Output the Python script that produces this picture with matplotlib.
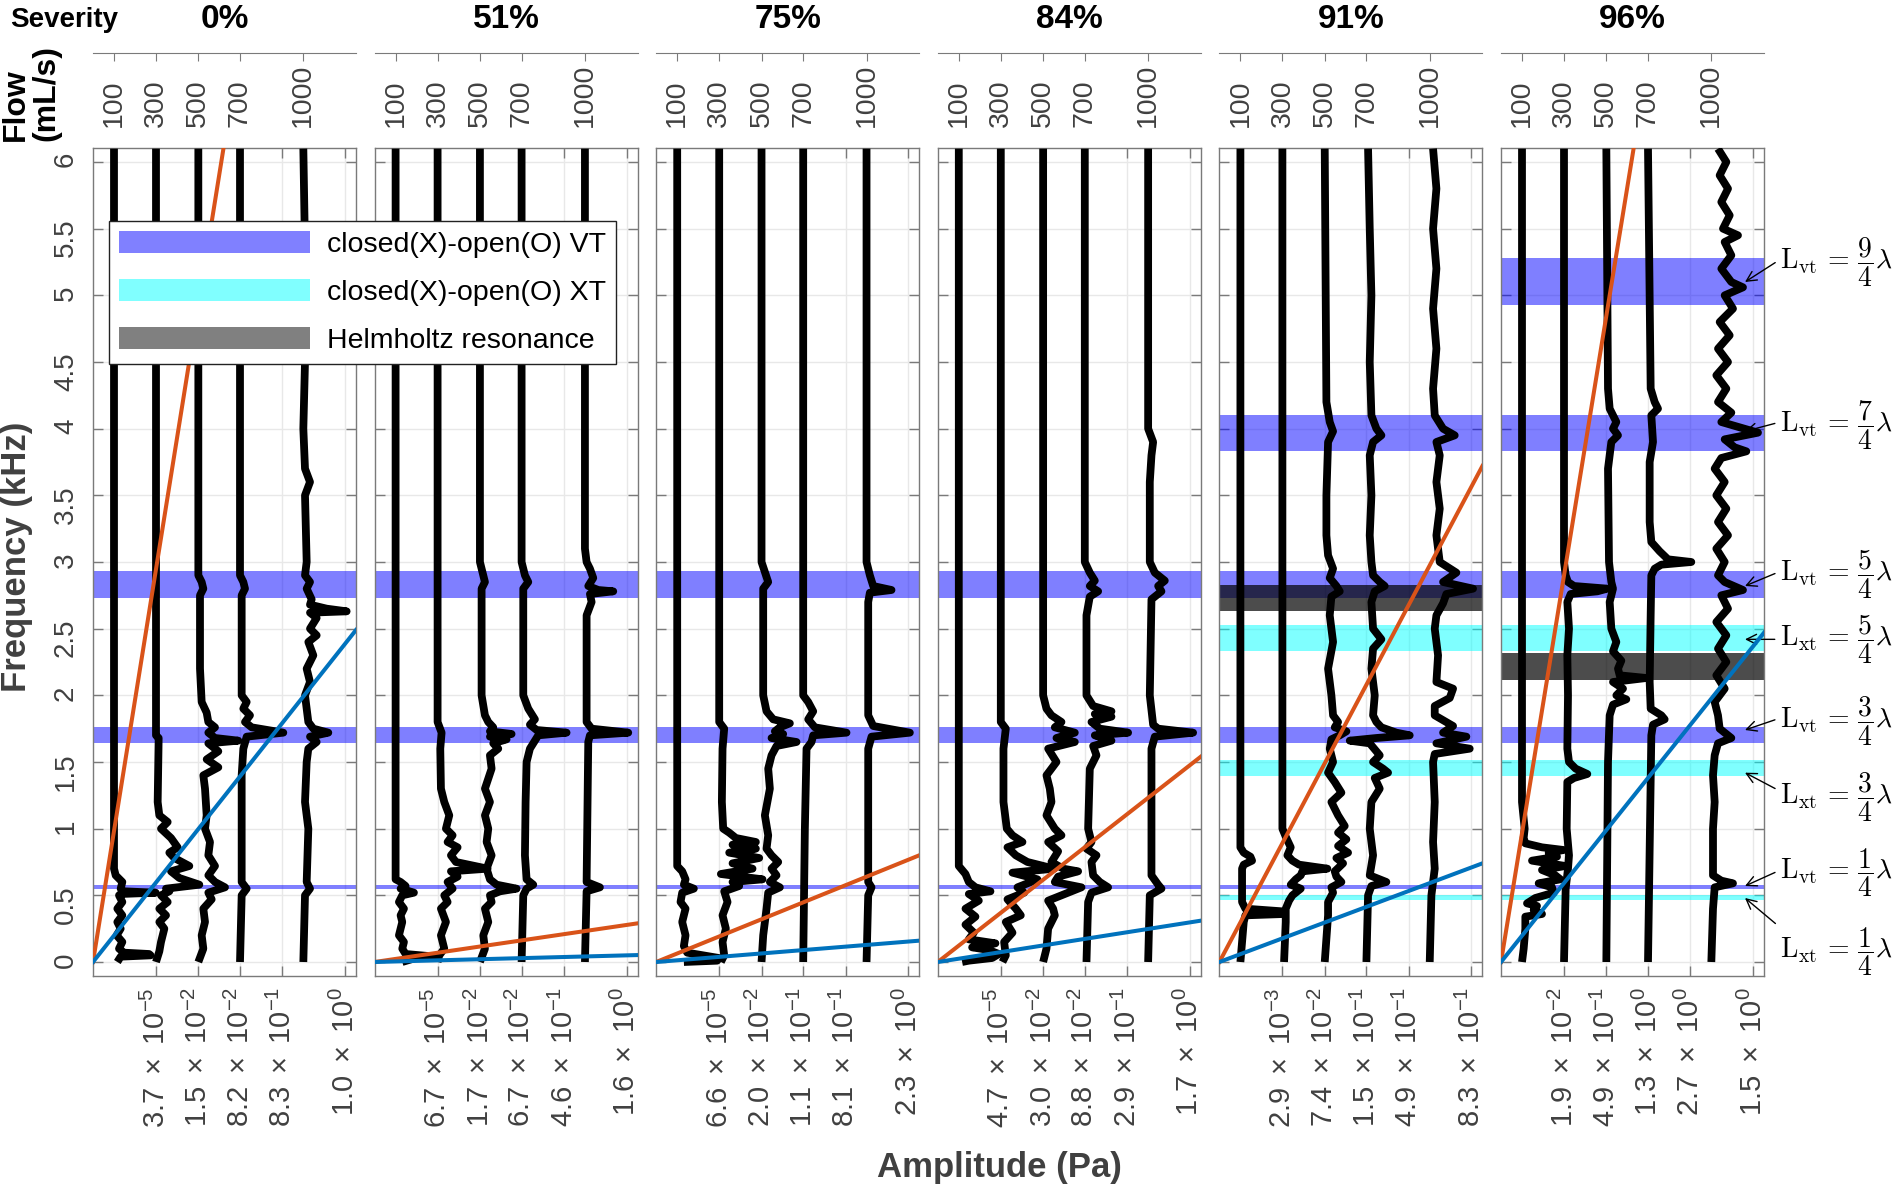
import matplotlib
matplotlib.use("Agg")
import matplotlib.pyplot as plt
from matplotlib.patches import Patch

plt.rcParams['font.family'] = ['Liberation Sans', 'DejaVu Sans']
plt.rcParams['mathtext.fontset'] = 'custom'
plt.rcParams['mathtext.rm'] = 'Liberation Sans'
plt.rcParams['mathtext.it'] = 'Liberation Sans:italic'
plt.rcParams['mathtext.bf'] = 'Liberation Sans:bold'

SEVERITY = ['0%', '51%', '75%', '84%', '91%', '96%']
FLOW = [100, 300, 500, 700, 1000]
# x axis of each panel runs 0..789 (stacked log-amplitude traces)
XMAX = 789
TRACE_POS = [63, 189, 316, 441, 631]
AMP_TICKS = [189, 316, 441, 568, 756]
AMP_MANT = [['3.7', '1.5', '8.2', '8.3', '1.0'],
            ['6.7', '1.7', '6.7', '4.6', '1.6'],
            ['6.6', '2.0', '1.1', '8.1', '2.3'],
            ['4.7', '3.0', '8.8', '2.9', '1.7'],
            ['2.9', '7.4', '1.5', '4.9', '8.3'],
            ['1.9', '4.9', '1.3', '2.7', '1.5']]
AMP_EXP = [[-5, -2, -2, -1, 0],
           [-5, -2, -2, -1, 0],
           [-5, -2, -1, -1, 0],
           [-5, -2, -2, -1, 0],
           [-3, -2, -1, -1, -1],
           [-2, -1, 0, 0, 0]]

# frequency (kHz) reached by the reference lines at the right edge of each panel
ORANGE_END = [12.3, 0.29, 0.80, 1.54, 3.72, 12.1]
BLUE_END = [2.49, 0.052, 0.16, 0.31, 0.74, 2.47]

VT_BANDS = [[(0.545, 0.58), (1.64, 1.76), (2.73, 2.93)],
            [(0.545, 0.58), (1.64, 1.76), (2.73, 2.93)],
            [(0.545, 0.58), (1.64, 1.76), (2.73, 2.93)],
            [(0.545, 0.58), (1.64, 1.76), (2.73, 2.93)],
            [(0.545, 0.58), (1.64, 1.76), (2.73, 2.93), (3.83, 4.10)],
            [(0.545, 0.58), (1.64, 1.76), (2.73, 2.93), (3.83, 4.10), (4.93, 5.28)]]
XT_BANDS = [[], [], [], [],
            [(0.464, 0.506), (1.394, 1.517), (2.33, 2.526)],
            [(0.464, 0.506), (1.394, 1.517), (2.33, 2.526)]]
HELM_BANDS = [[], [], [], [], [(2.63, 2.83)], [(2.114, 2.314)]]

# traces: (frequency kHz, offset from trace position)
TR0 = [
    [(6.1, 0), (0.7, 0), (0.65, 5), (0.6, 25), (0.55, 20), (0.53, 30), (0.52, 125), (0.51, 20), (0.5, 15),
     (0.45, 25), (0.4, 10), (0.35, 25), (0.3, 10), (0.25, 20), (0.2, 8), (0.15, 25), (0.1, 15), (0.07, 30),
     (0.06, 105), (0.05, 110), (0.04, 20), (0.0, 10)],
    [(6.1, 0), (1.7, 0), (1.68, 8), (1.2, 5), (1.1, 10), (1.05, 35), (1.0, 15), (0.93, 45), (0.86, 65),
     (0.82, 40), (0.78, 55), (0.72, 100), (0.68, 45), (0.63, 70), (0.58, 130), (0.55, 30), (0.53, 40),
     (0.5, 15), (0.45, 35), (0.4, 10), (0.35, 30), (0.3, 10), (0.25, 25), (0.15, 15), (0.08, 10), (0.0, 0)],
    [(6.1, 0), (2.9, 0), (2.85, 10), (2.8, 15), (2.75, 5), (2.2, 5), (1.95, 10), (1.87, 25), (1.8, 30),
     (1.76, 50), (1.72, 30), (1.68, 50), (1.66, 120), (1.64, 30), (1.58, 60), (1.52, 25), (1.46, 60),
     (1.4, 15), (1.3, 20), (1.1, 25), (1.0, 20), (0.9, 35), (0.8, 30), (0.72, 50), (0.65, 30), (0.6, 50),
     (0.56, 80), (0.52, 30), (0.47, 40), (0.4, 15), (0.3, 20), (0.2, 10), (0.1, 15), (0.0, 0)],
    [(6.1, 0), (2.9, 0), (2.85, 10), (2.8, 15), (2.75, 5), (2.0, 5), (1.95, 20), (1.9, 10), (1.85, 30),
     (1.8, 15), (1.76, 35), (1.72, 130), (1.69, 20), (1.6, 10), (1.4, 5), (0.6, 5), (0.55, 20), (0.5, 5),
     (0.0, 0)],
    [(6.1, 0), (5.5, 4), (5.0, 0), (4.5, 5), (4.0, 0), (3.7, 5), (3.6, 20), (3.5, 5), (3.0, 10), (2.9, 5),
     (2.85, 20), (2.8, 10), (2.72, 25), (2.68, 20), (2.65, 70), (2.63, 130), (2.62, 20), (2.58, 40),
     (2.5, 20), (2.45, 40), (2.4, 15), (2.3, 30), (2.2, 10), (2.1, 20), (2.0, 5), (1.8, 15), (1.75, 30),
     (1.72, 75), (1.69, 20), (1.65, 40), (1.6, 15), (1.5, 10), (1.2, 5), (1.0, 15), (0.6, 10), (0.55, 20),
     (0.5, 5), (0.0, 0)],
]
TR1 = [
    [(6.1, 0), (0.62, 0), (0.6, 15), (0.57, 30), (0.55, 15), (0.52, 55), (0.5, 20), (0.45, 10), (0.4, 25),
     (0.35, 15), (0.3, 20), (0.2, 10), (0.15, 25), (0.1, 20), (0.06, 30), (0.04, 120), (0.03, 60), (0.0, 20)],
    [(6.1, 0), (1.8, 0), (1.72, 12), (1.6, 8), (1.3, 10), (1.2, 20), (1.1, 35), (1.0, 25), (0.95, 45),
     (0.9, 30), (0.86, 60), (0.8, 40), (0.75, 55), (0.7, 150), (0.68, 40), (0.64, 60), (0.6, 30), (0.55, 45),
     (0.5, 20), (0.45, 30), (0.4, 10), (0.3, 25), (0.2, 10), (0.1, 20), (0.05, 5), (0.0, 0)],
    [(6.1, 0), (3.0, 0), (2.85, 15), (2.8, 5), (2.0, 5), (1.85, 15), (1.8, 25), (1.76, 40), (1.73, 30),
     (1.71, 95), (1.69, 30), (1.67, 80), (1.64, 40), (1.6, 55), (1.55, 30), (1.45, 35), (1.3, 15), (1.2, 30),
     (1.1, 15), (1.0, 25), (0.9, 20), (0.8, 35), (0.7, 20), (0.62, 30), (0.58, 50), (0.55, 110), (0.53, 60),
     (0.5, 30), (0.45, 35), (0.4, 15), (0.3, 25), (0.2, 10), (0.1, 15), (0.0, 0)],
    [(6.1, 0), (3.0, 0), (2.9, 10), (2.85, 20), (2.8, 5), (2.0, 5), (1.9, 20), (1.82, 40), (1.78, 25),
     (1.74, 45), (1.72, 135), (1.7, 50), (1.66, 40), (1.6, 25), (1.5, 15), (1.2, 12), (0.8, 10), (0.62, 15),
     (0.58, 35), (0.55, 15), (0.5, 5), (0.0, 0)],
    [(6.1, 0), (3.1, 0), (3.0, 5), (2.95, 15), (2.88, 25), (2.82, 10), (2.79, 40), (2.78, 85), (2.76, 15),
     (2.7, 20), (2.6, 5), (1.8, 5), (1.75, 20), (1.72, 130), (1.7, 15), (1.65, 10), (0.6, 5), (0.56, 45),
     (0.53, 5), (0.0, 0)],
]
TR2 = [
    [(6.1, 0), (0.72, 0), (0.68, 15), (0.62, 25), (0.58, 20), (0.55, 50), (0.52, 15), (0.45, 10), (0.4, 25),
     (0.3, 15), (0.2, 25), (0.12, 20), (0.07, 30), (0.03, 125), (0.01, 120), (0.0, 20)],
    [(6.1, 0), (1.8, 0), (1.75, 15), (1.6, 10), (1.2, 8), (1.0, 12), (0.97, 30), (0.93, 50), (0.9, 110),
     (0.88, 40), (0.85, 110), (0.82, 30), (0.78, 120), (0.74, 40), (0.7, 100), (0.66, 5), (0.62, 130),
     (0.6, 40), (0.57, 60), (0.53, 15), (0.45, 25), (0.35, 10), (0.25, 20), (0.15, 10), (0.05, 15), (0.0, 5)],
    [(6.1, 0), (3.0, 0), (2.85, 20), (2.8, 5), (2.0, 5), (1.88, 15), (1.82, 35), (1.79, 85), (1.76, 55),
     (1.73, 40), (1.71, 65), (1.68, 30), (1.65, 105), (1.62, 45), (1.55, 30), (1.45, 20), (1.3, 25),
     (1.1, 10), (0.95, 20), (0.85, 15), (0.8, 30), (0.75, 50), (0.7, 30), (0.65, 45), (0.6, 25), (0.56, 55),
     (0.52, 20), (0.4, 15), (0.2, 5), (0.0, 0)],
    [(6.1, 0), (2.0, 0), (1.95, 15), (1.88, 30), (1.82, 15), (1.76, 35), (1.72, 130), (1.7, 30), (1.65, 25),
     (1.6, 10), (1.0, 5), (0.0, 0)],
    [(6.1, 0), (3.0, 0), (2.9, 10), (2.82, 20), (2.79, 75), (2.77, 10), (2.7, 5), (1.85, 5), (1.77, 20),
     (1.72, 130), (1.69, 15), (1.6, 5), (0.6, 5), (0.56, 15), (0.5, 5), (0.0, 0)],
]
TR3 = [
    [(6.1, 0), (0.72, 0), (0.66, 20), (0.6, 30), (0.56, 50), (0.53, 95), (0.51, 30), (0.46, 60), (0.4, 20),
     (0.34, 50), (0.28, 20), (0.22, 45), (0.17, 30), (0.14, 110), (0.11, 40), (0.09, 90), (0.06, 120),
     (0.03, 100), (0.01, 30), (0.0, 10)],
    [(6.1, 0), (1.8, 0), (1.75, 15), (1.6, 8), (1.2, 8), (1.0, 18), (0.95, 35), (0.9, 65), (0.86, 20),
     (0.8, 45), (0.75, 80), (0.7, 160), (0.67, 35), (0.62, 110), (0.56, 50), (0.52, 70), (0.47, 20),
     (0.4, 45), (0.35, 60), (0.3, 15), (0.22, 35), (0.15, 10), (0.05, 15), (0.0, 5)],
    [(6.1, 0), (2.0, 0), (1.9, 10), (1.85, 25), (1.8, 55), (1.76, 35), (1.72, 95), (1.68, 40), (1.65, 95),
     (1.6, 15), (1.5, 40), (1.4, 10), (1.3, 20), (1.2, 25), (1.1, 10), (1.0, 35), (0.95, 55), (0.9, 15),
     (0.83, 45), (0.75, 25), (0.7, 60), (0.68, 105), (0.64, 45), (0.6, 35), (0.56, 115), (0.52, 75),
     (0.46, 15), (0.4, 30), (0.35, 35), (0.25, 15), (0.1, 10), (0.0, 0)],
    [(6.1, 0), (3.0, 0), (2.92, 15), (2.86, 30), (2.82, 15), (2.78, 40), (2.74, 15), (2.6, 5), (2.0, 5),
     (1.92, 25), (1.88, 80), (1.86, 30), (1.84, 80), (1.8, 20), (1.75, 45), (1.72, 130), (1.7, 30),
     (1.66, 80), (1.62, 25), (1.55, 35), (1.45, 15), (1.0, 10), (0.9, 20), (0.85, 5), (0.8, 35), (0.75, 20),
     (0.65, 25), (0.6, 45), (0.56, 70), (0.52, 20), (0.45, 10), (0.0, 5)],
    [(6.1, 0), (4.0, 0), (3.9, 15), (3.8, 10), (3.6, 5), (3.0, 5), (2.92, 20), (2.86, 50), (2.82, 30),
     (2.78, 40), (2.72, 10), (2.0, 5), (1.78, 15), (1.75, 30), (1.72, 135), (1.69, 20), (1.6, 10),
     (0.65, 10), (0.58, 30), (0.55, 40), (0.5, 5), (0.0, 0)],
]
TR4 = [
    [(6.1, 0), (0.86, 0), (0.82, 10), (0.79, 30), (0.76, 35), (0.73, 10), (0.7, 5), (0.45, 5), (0.4, 15),
     (0.38, 125), (0.36, 130), (0.35, 15), (0.3, 10), (0.0, 0)],
    [(6.1, 0), (1.0, 0), (0.94, 10), (0.86, 25), (0.8, 15), (0.76, 30), (0.73, 50), (0.7, 135), (0.68, 60),
     (0.65, 55), (0.62, 40), (0.58, 25), (0.55, 55), (0.5, 30), (0.46, 20), (0.4, 10), (0.3, 10), (0.0, 5)],
    [(6.1, 0), (4.2, 5), (4.05, 15), (3.98, 25), (3.9, 10), (3.5, 5), (3.2, 5), (3.05, 10), (2.95, 25),
     (2.88, 15), (2.82, 35), (2.78, 45), (2.74, 20), (2.6, 15), (2.4, 25), (2.2, 10), (2.0, 20), (1.85, 25),
     (1.8, 40), (1.76, 30), (1.73, 65), (1.7, 45), (1.67, 20), (1.6, 15), (1.5, 25), (1.42, 10), (1.35, 30),
     (1.27, 50), (1.2, 20), (1.1, 40), (1.02, 60), (0.97, 40), (0.92, 65), (0.87, 40), (0.82, 70),
     (0.78, 35), (0.74, 55), (0.68, 30), (0.64, 35), (0.6, 50), (0.56, 20), (0.52, 25), (0.45, 10),
     (0.35, 10), (0.0, 0)],
    [(6.1, 5), (5.5, 10), (5.0, 15), (4.5, 10), (4.1, 15), (4.0, 30), (3.95, 45), (3.9, 20), (3.8, 10),
     (3.5, 15), (3.2, 10), (3.0, 15), (2.9, 20), (2.85, 40), (2.82, 55), (2.78, 25), (2.7, 15), (2.5, 20),
     (2.42, 45), (2.35, 20), (2.2, 15), (2.0, 25), (1.85, 20), (1.8, 30), (1.76, 45), (1.72, 90), (1.7, 130),
     (1.68, 30), (1.66, -50), (1.64, 10), (1.55, 40), (1.5, 20), (1.45, 50), (1.42, 65), (1.38, 25),
     (1.3, 40), (1.2, 15), (1.0, 10), (0.8, 20), (0.65, 10), (0.6, 60), (0.57, 15), (0.5, 5), (0.0, 0)],
    [(6.1, 10), (5.8, 20), (5.5, 10), (5.2, 20), (4.9, 10), (4.6, 20), (4.3, 10), (4.1, 15), (4.0, 40),
     (3.95, 75), (3.9, 20), (3.8, 30), (3.6, 20), (3.4, 30), (3.2, 20), (3.0, 30), (2.92, 80), (2.85, 40),
     (2.8, 130), (2.76, 50), (2.69, 40), (2.6, 20), (2.5, 15), (2.3, 25), (2.1, 20), (2.05, 70), (1.98, 60),
     (1.92, 15), (1.85, 15), (1.77, 70), (1.72, 40), (1.69, 110), (1.64, 20), (1.6, 120), (1.56, 15),
     (1.5, 10), (1.2, 15), (0.9, 10), (0.7, 15), (0.5, 5), (0.0, 0)],
]
TR5 = [
    [(6.1, 0), (1.2, 0), (1.0, 8), (0.93, 5), (0.89, 10), (0.86, 60), (0.84, 125), (0.82, 80), (0.79, 105),
     (0.76, 30), (0.72, 130), (0.69, 60), (0.65, 100), (0.62, 115), (0.59, 50), (0.56, 90), (0.52, 95),
     (0.48, 40), (0.44, 15), (0.42, 45), (0.39, 35), (0.36, 60), (0.34, 10), (0.25, 10), (0.1, 5), (0.0, 0)],
    [(6.1, 0), (3.0, 0), (2.9, 5), (2.85, 12), (2.82, 30), (2.8, 130), (2.78, 100), (2.76, 20), (2.7, 10),
     (2.5, 15), (2.3, 10), (2.0, 12), (1.6, 10), (1.5, 15), (1.45, 35), (1.41, 70), (1.38, 30), (1.35, 10),
     (1.0, 8), (0.8, 15), (0.7, 12), (0.55, 5), (0.0, 0)],
    [(6.1, 0), (4.3, 5), (4.15, 10), (4.05, 30), (4.0, 20), (3.95, 35), (3.9, 15), (3.7, 5), (3.0, 8),
     (2.85, 15), (2.8, 20), (2.7, 10), (2.5, 15), (2.4, 30), (2.33, 20), (2.26, 45), (2.2, 35), (2.15, 40),
     (2.13, 120), (2.1, 20), (2.05, 50), (2.0, 30), (1.97, 60), (1.93, 20), (1.85, 10), (1.5, 5), (0.0, 0)],
    [(6.1, 0), (4.3, 8), (4.2, 20), (4.15, 30), (4.1, 10), (3.9, 15), (3.75, 5), (3.3, 5), (3.15, 10),
     (3.08, 35), (3.02, 60), (3.0, 130), (2.98, 40), (2.95, 20), (2.9, 10), (2.6, 8), (2.1, 5), (1.9, 8),
     (1.85, 40), (1.82, 50), (1.78, 15), (1.7, 10), (0.0, 0)],
    [(6.1, 20), (6.0, 45), (5.9, 25), (5.8, 50), (5.7, 30), (5.6, 55), (5.5, 35), (5.45, 80), (5.4, 40),
     (5.3, 60), (5.2, 30), (5.1, 60), (5.06, 95), (5.0, 40), (4.9, 65), (4.8, 25), (4.7, 55), (4.6, 20),
     (4.5, 50), (4.4, 15), (4.3, 45), (4.2, 20), (4.12, 60), (4.05, 30), (3.97, 140), (3.92, 40), (3.86, 70),
     (3.83, 105), (3.78, 30), (3.7, 10), (3.6, 40), (3.5, 15), (3.4, 45), (3.3, 20), (3.2, 50), (3.1, 15),
     (3.0, 40), (2.9, 20), (2.85, 40), (2.79, 95), (2.75, 30), (2.65, 50), (2.55, 15), (2.45, 45), (2.35, 20),
     (2.25, 45), (2.15, 15), (2.05, 40), (1.95, 10), (1.85, 20), (1.75, 25), (1.68, 60), (1.64, 20),
     (1.55, 10), (1.4, 5), (1.2, 10), (1.0, 5), (0.65, 5), (0.61, 30), (0.59, 65), (0.56, 10), (0.4, 5),
     (0.0, 0)],
]
TRACES = [TR0, TR1, TR2, TR3, TR4, TR5]

# right-hand annotations of the last panel
ANN_KIND = ['vt', 'vt', 'vt', 'xt', 'vt', 'xt', 'vt', 'xt']
ANN_NUM = [9, 7, 5, 5, 3, 3, 1, 1]
ANN_HEAD_F = [5.10, 3.98, 2.82, 2.42, 1.74, 1.42, 0.57, 0.48]
ANN_TEXT_F = [5.25, 4.03, 2.91, 2.42, 1.81, 1.24, 0.67, 0.08]
ANN_RELY = [0.55, 0.55, 0.55, 0.5, 0.55, 0.6, 0.55, 0.95]

W, H = 1898, 1191
fig = plt.figure(figsize=(W / 100, H / 100), dpi=100)

ax_l0 = 93 / W
ax_w = 263 / W
ax_step = 281.6 / W
ax_b = 1 - 976 / H
ax_h = (976 - 148) / H

GRAY = '#404040'
SPINE = '#7a7a7a'

axes = []
for i in range(6):
    x0 = ax_l0 + i * ax_step
    ax = fig.add_axes([x0, ax_b, ax_w, ax_h])
    axes.append(ax)
    ax.set_xlim(0, XMAX)
    ax.set_ylim(-0.105, 6.105)
    ax.set_axisbelow(True)
    ax.grid(True, color='#e8e8e8', lw=1)

    for lo, hi in VT_BANDS[i]:
        ax.axhspan(lo, hi, color=(0, 0, 1), alpha=0.5, lw=0)
    for lo, hi in XT_BANDS[i]:
        ax.axhspan(lo, hi, color=(0, 1, 1), alpha=0.5, lw=0)
    for lo, hi in HELM_BANDS[i]:
        ax.axhspan(lo, hi, color=(0, 0, 0), alpha=0.7, lw=0)

    for base, tr in zip(TRACE_POS, TRACES[i]):
        ff = [p[0] for p in tr]
        xx = [base + p[1] for p in tr]
        ax.plot(xx, ff, color='k', lw=5.6, solid_joinstyle='round', solid_capstyle='butt', zorder=3)

    ax.plot([0, XMAX], [0, ORANGE_END[i]], color='#D95319', lw=2.9, zorder=4)
    ax.plot([0, XMAX], [0, BLUE_END[i]], color='#0072BD', lw=2.9, zorder=4)

    ax.set_xticks(AMP_TICKS)
    ax.set_xticklabels([r'$\mathregular{%s\ \times\ 10^{%d}}$' % (m, e)
                        for m, e in zip(AMP_MANT[i], AMP_EXP[i])])
    ax.set_yticks([k * 0.5 for k in range(13)])
    ax.set_yticklabels(['%g' % (k * 0.5) for k in range(13)] if i == 0 else [])
    ax.tick_params(axis='both', direction='in', length=7, width=1, color=SPINE,
                   top=True, right=True, labelsize=20, labelcolor=GRAY)
    ax.tick_params(axis='x', labelrotation=90, pad=8, labelsize=21)
    ax.tick_params(axis='y', labelrotation=90, pad=10)
    for sp in ax.spines.values():
        sp.set_color(SPINE)
        sp.set_linewidth(1)

    # flow axis above the panel
    fax = fig.add_axes([x0, 1 - 127 / H, ax_w, (127 - 53) / H])
    fax.set_xlim(0, XMAX)
    fax.patch.set_visible(False)
    for k in ['left', 'right', 'bottom']:
        fax.spines[k].set_visible(False)
    fax.spines['top'].set_color(SPINE)
    fax.set_yticks([])
    fax.xaxis.tick_top()
    fax.set_xticks(TRACE_POS)
    fax.tick_params(axis='x', direction='in', length=6, color=SPINE, labeltop=False, labelbottom=False)
    for xp, fl in zip(TRACE_POS, FLOW):
        fax.text(xp, 0, str(fl), transform=fax.get_xaxis_transform(), rotation=90,
                 ha='center', va='bottom', fontsize=20.5, color=GRAY)

    fig.text(x0 + ax_w / 2, 1 - 20 / H, SEVERITY[i], ha='center', va='center',
             fontsize=24, fontweight='bold')

ax6 = axes[-1]
for kind, num, hf, tf, ry in zip(ANN_KIND, ANN_NUM, ANN_HEAD_F, ANN_TEXT_F, ANN_RELY):
    ax6.annotate(r'$\mathrm{L_{%s}}\,=\,\dfrac{%d}{4}\lambda$' % (kind, num),
                 xy=(732, hf), xytext=(838, tf), textcoords='data',
                 ha='left', va='center', fontsize=20, math_fontfamily='cm',
                 annotation_clip=False,
                 arrowprops=dict(arrowstyle='->', color='k', lw=1, shrinkA=2, shrinkB=0,
                                 mutation_scale=18, relpos=(0, ry)))

handles = [Patch(facecolor='#8080ff', edgecolor='none'),
           Patch(facecolor='#80ffff', edgecolor='none'),
           Patch(facecolor='#808080', edgecolor='none')]
leg = fig.legend(handles, ['closed(X)-open(O) VT', 'closed(X)-open(O) XT', 'Helmholtz resonance'],
                 loc='upper left', bbox_to_anchor=(109 / W, 1 - 221 / H), borderaxespad=0,
                 fontsize=20.5, handlelength=6.7, handleheight=0.8, handletextpad=0.6,
                 labelspacing=0.75, borderpad=0.35, fancybox=False, framealpha=1)
leg.get_frame().set_edgecolor('#222222')
leg.get_frame().set_linewidth(1)

fig.text(10 / W, 1 - 20 / H, 'Severity', ha='left', va='center', fontsize=20, fontweight='bold')
fig.text(31 / W, 1 - 141 / H, 'Flow\n(mL/s)', rotation=90, ha='center', va='bottom',
         multialignment='left', fontsize=23, fontweight='bold', linespacing=1.05)
fig.text(17 / W, 1 - 557 / H, 'Frequency (kHz)', rotation=90, ha='center', va='center',
         fontsize=25, fontweight='bold', color=GRAY)
fig.text(999 / W, 1 - 1168 / H, 'Amplitude (Pa)', ha='center', va='center',
         fontsize=25, fontweight='bold', color=GRAY)

fig.savefig('out.png', dpi=100)
